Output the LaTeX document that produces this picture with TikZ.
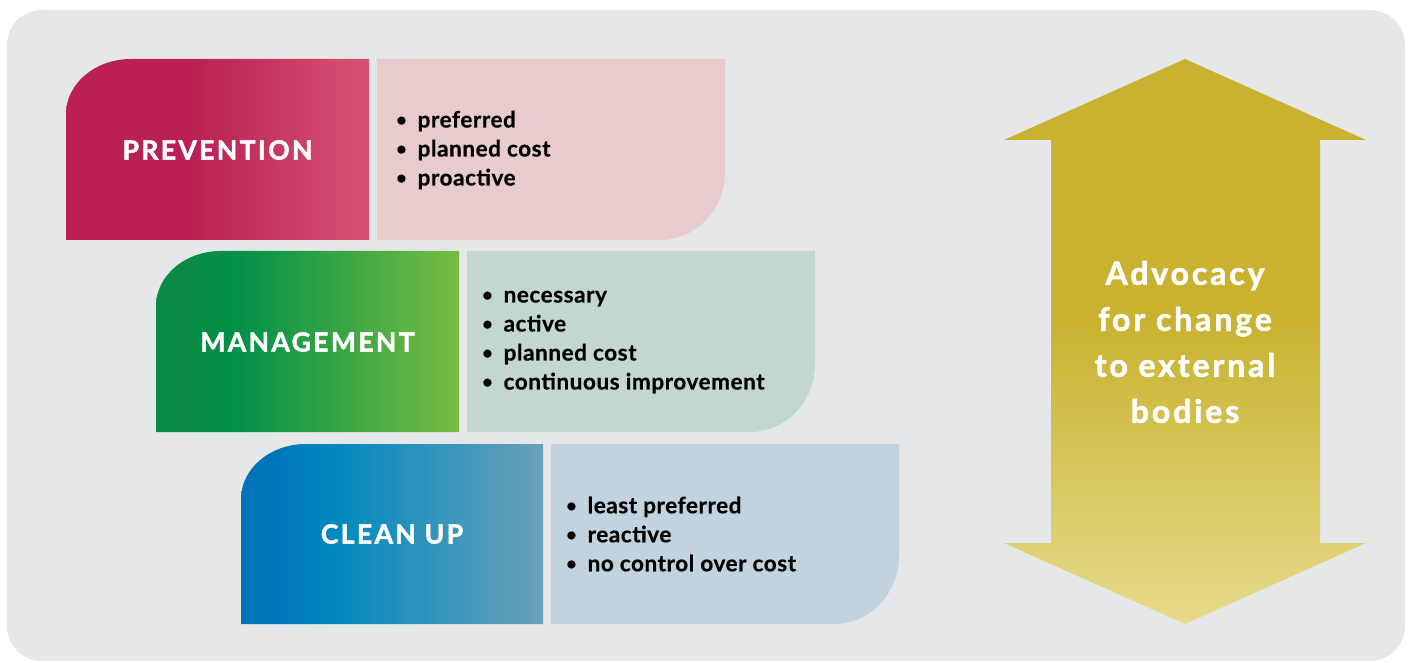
\documentclass[tikz,border=0pt]{standalone}
\usepackage{fontspec}
\setmainfont{Lato}
\newfontfamily\titlefont[LetterSpace=9,FakeBold=1.8]{Lato}
\newfontfamily\arrowfont[LetterSpace=9,FakeBold=1.8]{Lato}
\newfontfamily\listfont[LetterSpace=2.5,FakeBold=0.6]{Lato}
\usetikzlibrary{shadings}
\definecolor{bggray}{HTML}{E6E7E9}
\definecolor{prevA}{HTML}{BA2152}
\definecolor{prevB}{HTML}{D75276}
\definecolor{prevL}{HTML}{E8CBCD}
\definecolor{manA}{HTML}{0A8A43}
\definecolor{manM}{HTML}{009047}
\definecolor{manB}{HTML}{78BD43}
\definecolor{manL}{HTML}{C2D8CE}
\definecolor{clnA}{HTML}{0074BA}
\definecolor{clnM}{HTML}{0088BE}
\definecolor{clnB}{HTML}{69A1B7}
\definecolor{clnL}{HTML}{C0D3DF}
\definecolor{goldA}{HTML}{C8B22F}
\definecolor{goldB}{HTML}{E7DB8B}
\pgfdeclarehorizontalshading{prevsh}{100bp}{color(0bp)=(prevA); color(25bp)=(prevA); color(46bp)=(prevA); color(75bp)=(prevB); color(100bp)=(prevB)}
\pgfdeclarehorizontalshading{mansh}{100bp}{color(0bp)=(manA); color(25bp)=(manA); color(30bp)=(manA); color(38bp)=(manM); color(75bp)=(manB); color(100bp)=(manB)}
\pgfdeclarehorizontalshading{clnsh}{100bp}{color(0bp)=(clnA); color(25bp)=(clnA); color(30bp)=(clnA); color(40bp)=(clnM); color(75bp)=(clnB); color(100bp)=(clnB)}
\pgfdeclareverticalshading{goldsh}{100bp}{color(0bp)=(goldB); color(25bp)=(goldB); color(52bp)=(goldA); color(75bp)=(goldA); color(100bp)=(goldA)}
\newcommand{\blt}{\raisebox{1.5pt}{\scalebox{0.8}{•}}\hspace{11pt}}
\tikzset{
  titletext/.style={text=white, font=\titlefont\fontsize{26.5}{30}\selectfont\bfseries, inner sep=0pt},
  listtext/.style={text=black, font=\listfont\fontsize{22.5}{29}\selectfont\bfseries, align=left, inner sep=0pt, anchor=west},
  arrowtext/.style={text=white, font=\arrowfont\fontsize{32}{46}\selectfont\bfseries, align=center, inner sep=0pt}
}
\begin{document}
\begin{tikzpicture}[x=1pt,y=1pt]
\useasboundingbox (0,0) rectangle (1410,662);
% background
\fill[bggray, rounded corners=35pt] (7,1) rectangle (1405,652);
% prevention
\shade[shading=prevsh] (66,422) -- (66,548) arc[start angle=180,end angle=90,x radius=65pt,y radius=55pt] -- (369,603) -- (369,422) -- cycle;
\fill[prevL] (377,422) -- (377,603) -- (725,603) -- (725,490) arc[start angle=0,end angle=-90,x radius=65pt,y radius=68pt] -- cycle;
% management
\shade[shading=mansh] (156,230) -- (156,356) arc[start angle=180,end angle=90,x radius=65pt,y radius=55pt] -- (459,411) -- (459,230) -- cycle;
\fill[manL] (467,230) -- (467,411) -- (815,411) -- (815,298) arc[start angle=0,end angle=-90,x radius=65pt,y radius=68pt] -- cycle;
% clean up
\shade[shading=clnsh] (241,38) -- (241,163) arc[start angle=180,end angle=90,x radius=65pt,y radius=55pt] -- (543,218) -- (543,38) -- cycle;
\fill[clnL] (551,38) -- (551,218) -- (899,218) -- (899,106) arc[start angle=0,end angle=-90,x radius=65pt,y radius=68pt] -- cycle;
% arrow
\shade[shading=goldsh] (1185,603) -- (1366,522) -- (1320,522) -- (1320,119) -- (1366,119) -- (1185,38) -- (1004,119) -- (1051,119) -- (1051,522) -- (1004,522) -- cycle;
% texts
\node[titletext] (prev) at (217.5,512) {PREVENTION};
\node[titletext] (man) at (307.5,320) {MANAGEMENT};
\node[titletext] (cln) at (392,128) {CLEAN UP};
\node[listtext] (prevlist) at (396,512) {\blt preferred\\\blt planned cost\\\blt proactive};
\node[listtext] (manlist) at (482,320) {\blt necessary\\\blt active\\\blt planned cost\\\blt continuous improvement};
\node[listtext] (clnlist) at (566,128) {\blt least preferred\\\blt reactive\\\blt no control over cost};
\node[arrowtext] (adv) at (1185,320) {Advocacy\\for change\\to external\\bodies};
\end{tikzpicture}
\end{document}
